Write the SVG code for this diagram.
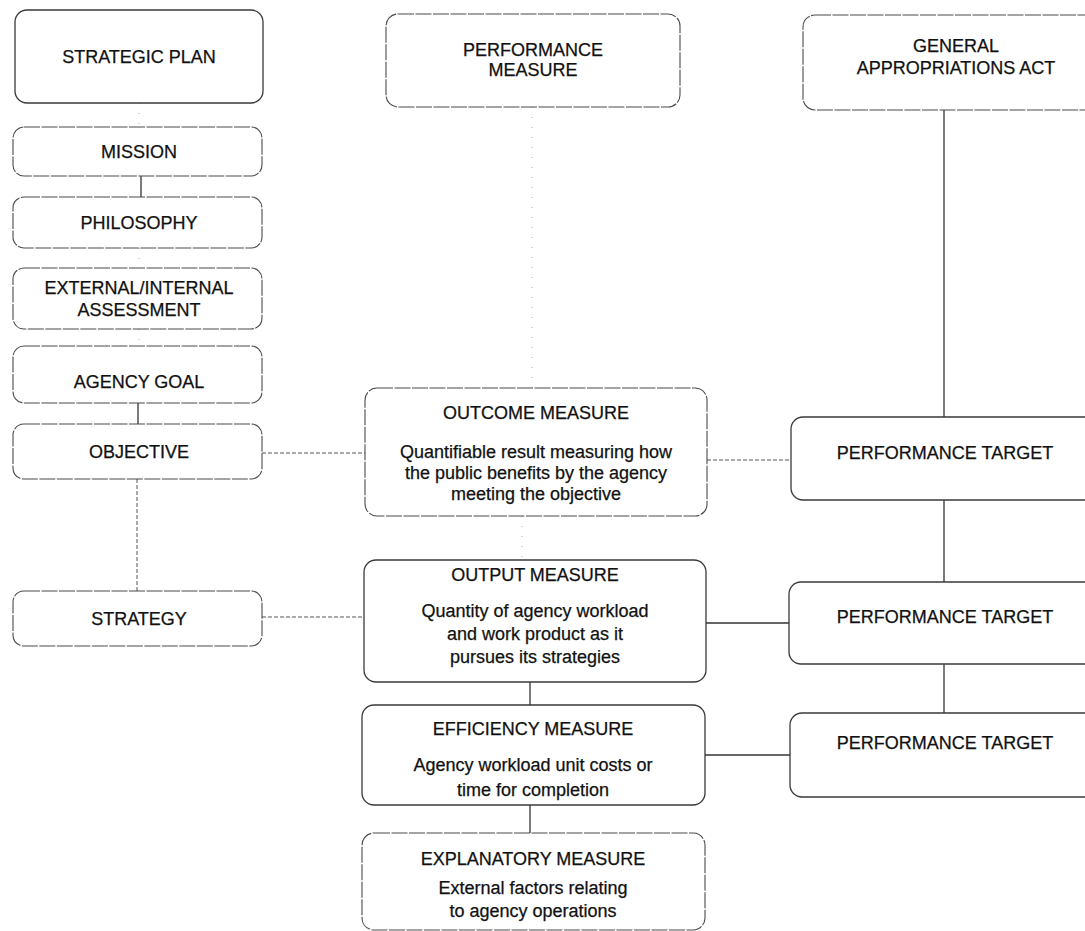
<svg xmlns="http://www.w3.org/2000/svg" width="1085" height="931" viewBox="0 0 1085 931">
<style>
.box{fill:#fff;stroke:#3a3a3a;stroke-width:1.3}
.lt{fill:#fff;stroke:#4a4a4a;stroke-width:1.1;stroke-dasharray:16 1.5}
.t{font-family:"Liberation Sans",Arial,sans-serif;font-size:18px;fill:#111;text-anchor:middle;stroke:#111;stroke-width:0.25}
.c{fill:none;stroke:#333;stroke-width:1.3}
.cd{fill:none;stroke:#555;stroke-width:1;stroke-dasharray:4 2}
.cf{fill:none;stroke:#aaa;stroke-width:1;stroke-dasharray:1 9}
</style>
<rect width="1085" height="931" fill="#fff"/>
<g id="connectors">
<line class="cf" x1="139" y1="103" x2="139" y2="127"/>
<line class="c" x1="141" y1="176" x2="141" y2="197"/>
<line class="cf" x1="139" y1="248" x2="139" y2="268"/>
<line class="cf" x1="139" y1="329" x2="139" y2="346"/>
<line class="c" x1="138" y1="403" x2="138" y2="424"/>
<line class="cd" x1="137" y1="479" x2="137" y2="591"/>
<line class="cd" x1="262" y1="453" x2="365" y2="453"/>
<line class="cd" x1="262" y1="617" x2="364" y2="617"/>
<line class="cf" x1="532" y1="107" x2="532" y2="388"/>
<line class="cf" x1="522" y1="516" x2="522" y2="560"/>
<line class="c" x1="530" y1="682" x2="530" y2="705"/>
<line class="c" x1="530" y1="805" x2="530" y2="833"/>
<line class="cd" x1="707" y1="460" x2="791" y2="460"/>
<line class="c" x1="706" y1="623" x2="789" y2="623"/>
<line class="c" x1="705" y1="755" x2="790" y2="755"/>
<line class="c" x1="944" y1="110" x2="944" y2="417"/>
<line class="c" x1="944" y1="500" x2="944" y2="582"/>
<line class="c" x1="944" y1="664" x2="944" y2="713"/>
</g>
<g id="strategic-plan"><rect class="box" x="15" y="10" width="248" height="93" rx="12"/><text class="t" x="139" y="63">STRATEGIC PLAN</text></g>
<g id="mission"><rect class="lt" x="13" y="127" width="249" height="49" rx="11"/><text class="t" x="139" y="158">MISSION</text></g>
<g id="philosophy"><rect class="lt" x="13" y="197" width="249" height="51" rx="11"/><text class="t" x="139" y="229">PHILOSOPHY</text></g>
<g id="assessment"><rect class="lt" x="13" y="268" width="249" height="61" rx="11"/><text class="t" x="139" y="294">EXTERNAL/INTERNAL</text><text class="t" x="139" y="316">ASSESSMENT</text></g>
<g id="agency-goal"><rect class="lt" x="13" y="346" width="249" height="57" rx="11"/><text class="t" x="139" y="388">AGENCY GOAL</text></g>
<g id="objective"><rect class="lt" x="13" y="424" width="249" height="55" rx="11"/><text class="t" x="139" y="458">OBJECTIVE</text></g>
<g id="strategy"><rect class="lt" x="13" y="591" width="249" height="55" rx="11"/><text class="t" x="139" y="625">STRATEGY</text></g>
<g id="performance-measure"><rect class="lt" x="386" y="14" width="294" height="93" rx="12"/><text class="t" x="533" y="56">PERFORMANCE</text><text class="t" x="533" y="76">MEASURE</text></g>
<g id="gaa"><rect class="lt" x="803" y="15" width="320" height="95" rx="12"/><text class="t" x="956" y="52">GENERAL</text><text class="t" x="956" y="74">APPROPRIATIONS ACT</text></g>
<g id="outcome"><rect class="lt" x="365" y="388" width="342" height="128" rx="12"/><text class="t" x="536" y="419">OUTCOME MEASURE</text><text class="t" x="536" y="458">Quantifiable result measuring how</text><text class="t" x="536" y="479">the public benefits by the agency</text><text class="t" x="536" y="500">meeting the objective</text></g>
<g id="output"><rect class="box" x="364" y="560" width="342" height="122" rx="12"/><text class="t" x="535" y="581">OUTPUT MEASURE</text><text class="t" x="535" y="617">Quantity of agency workload</text><text class="t" x="535" y="640">and work product as it</text><text class="t" x="535" y="663">pursues its strategies</text></g>
<g id="efficiency"><rect class="box" x="362" y="705" width="343" height="100" rx="12"/><text class="t" x="533" y="735">EFFICIENCY MEASURE</text><text class="t" x="533" y="771">Agency workload unit costs or</text><text class="t" x="533" y="796">time for completion</text></g>
<g id="explanatory"><rect class="lt" x="362" y="833" width="343" height="97" rx="12"/><text class="t" x="533" y="865">EXPLANATORY MEASURE</text><text class="t" x="533" y="894">External factors relating</text><text class="t" x="533" y="917">to agency operations</text></g>
<g id="target-1"><rect class="box" x="791" y="417" width="320" height="83" rx="12"/><text class="t" x="945" y="459">PERFORMANCE TARGET</text></g>
<g id="target-2"><rect class="box" x="789" y="582" width="320" height="82" rx="12"/><text class="t" x="945" y="623">PERFORMANCE TARGET</text></g>
<g id="target-3"><rect class="box" x="790" y="713" width="320" height="84" rx="12"/><text class="t" x="945" y="749">PERFORMANCE TARGET</text></g>
</svg>
